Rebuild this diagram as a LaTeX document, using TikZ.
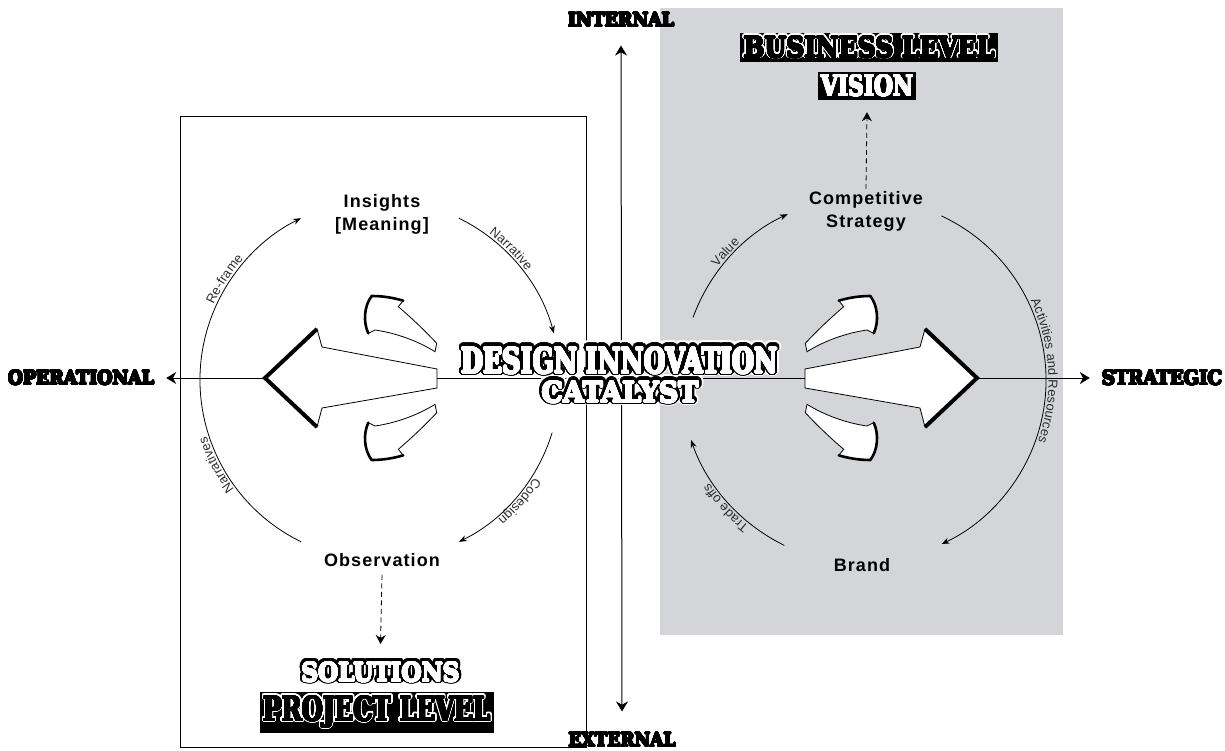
\documentclass[tikz,border=0pt]{standalone}
\usepackage{fontspec}
\usepackage{graphicx}
\usepackage{contour}
\setmainfont{Liberation Sans}
\newfontfamily\dispfont{DejaVu Serif}
\newfontfamily\lblfont[LetterSpace=6]{Liberation Sans}
\usetikzlibrary{arrows.meta,decorations.text}
\definecolor{panel}{RGB}{211,213,216}
\definecolor{arclbl}{RGB}{45,45,45}
\contournumber{32}
\newcommand{\heavytxt}[3]{\resizebox{#1}{#2}{\dispfont\bfseries #3}}
\newcommand{\ctr}[3]{\contourlength{#1}\contour{#2}{#3}}
\newcommand{\arctext}[5]{\path[decorate,decoration={text along path, text align=center, raise=2.5pt, text={|\fontsize{13}{15}\selectfont\color{arclbl}|#5}}] ([shift={(#3:#2)}]#1) arc[start angle=#3, end angle=#4, radius=#2];}
\newcommand{\smallarrowshape}{%
 \draw[blockarrow] (371.7,-296) .. controls (384,-296) and (394,-298) .. (403.3,-300.7) -- (398.3,-306.7) .. controls (414,-320) and (427,-333) .. (436.7,-343.3) -- (435,-351.7) .. controls (418,-341) and (396,-333) .. (375,-330) -- (368.3,-333.3) .. controls (363,-322) and (364,-306) .. cycle;
 \draw[sbarb] (368.3,-333.3) .. controls (363,-322) and (364,-306) .. (371.7,-296) .. controls (384,-296) and (394,-298) .. (403.3,-300.7);
}
\newcommand{\bigarrowshape}{%
 \draw[blockarrow] (265,-378) -- (317,-329) -- (322,-347) -- (437,-369) -- (437,-388) -- (322,-408) -- (317,-427) -- cycle;
 \draw[barb] (317,-329) -- (265,-378) -- (317,-427);
}
\newcommand{\arrowcluster}{%
 \bigarrowshape
 \smallarrowshape
 \begin{scope}[shift={(0,-756)},yscale=-1]\smallarrowshape\end{scope}
}
\tikzset{
 axisline/.style={line width=1pt, {Stealth[length=10pt,width=12pt]}-{Stealth[length=10pt,width=12pt]}},
 cyc/.style={line width=0.8pt, -{Stealth[length=8pt,width=6pt]}},
 dasharrow/.style={line width=0.8pt, dash pattern=on 5pt off 3.5pt, -{Stealth[length=9pt,width=10pt]}},
 heavy/.style={inner sep=0pt, text=black},
 lbl/.style={font=\lblfont\bfseries\fontsize{18}{23}\selectfont, align=center, inner sep=0pt},
 blockarrow/.style={fill=white, draw=black, line width=0.8pt, line join=miter},
 barb/.style={line width=4pt, line join=miter, line cap=butt},
 sbarb/.style={line width=2.6pt, line join=round, line cap=round},
 boxed/.style={fill=black, inner sep=3pt},
}
\begin{document}
\begin{tikzpicture}[x=1pt,y=1pt]
\useasboundingbox (0,0) rectangle (1225,-751);
\fill[white] (0,0) rectangle (1225,-751);
% panels
\fill[panel] (660,-8) rectangle (1063,-635);
\draw[line width=0.8pt, fill=white] (180,-116) rectangle (586,-747);
% axis labels
\node[heavy] (op) at (81,-378) {\ctr{0.7pt}{black}{\heavytxt{146pt}{14pt}{OPERATIONAL}}};
\node[heavy] (st) at (1162,-378) {\ctr{0.7pt}{black}{\heavytxt{120pt}{15pt}{STRATEGIC}}};
\node[heavy] (in) at (621,-20) {\ctr{0.7pt}{black}{\heavytxt{106pt}{14pt}{INTERNAL}}};
\node[heavy] (ex) at (622,-740) {\ctr{0.7pt}{black}{\heavytxt{107pt}{14pt}{EXTERNAL}}};
\draw[axisline] ([xshift=12pt]op.east) -- ([xshift=-12pt]st.west);
\draw[axisline] ([yshift=-18pt]in.south) -- ([yshift=21pt]ex.north);
% cycle nodes
\node[lbl] (ins) at (382,-214) {Insights\\{[}Meaning{]}};
\node[lbl] (obs) at (382,-560) {Observation};
\node[lbl] (cs) at (866,-211) {Competitive\\Strategy};
\node[lbl] (br) at (862,-565) {Brand};
\coordinate (L) at (380,-380);
\coordinate (R) at (865,-380);
% left cycle arcs
\draw[cyc] ([shift={(-116:180)}]L) arc[start angle=-116, end angle=-244, radius=180];
\draw[cyc] ([shift={(64:180)}]L) arc[start angle=64, end angle=15, radius=180];
\draw[cyc] ([shift={(-17:180)}]L) arc[start angle=-17, end angle=-64, radius=180];
\arctext{L}{180}{-190}{-236}{Re-frame}
\arctext{L}{180}{-130}{-175}{Narratives}
\arctext{L}{180}{62}{28}{Narrative}
\arctext{L}{180}{-22}{-60}{Codesign}
% right cycle arcs
\draw[cyc] ([shift={(-200:183)}]R) arc[start angle=-200, end angle=-245, radius=183];
\draw[cyc] ([shift={(-116:184)}]R) arc[start angle=-116, end angle=-161, radius=184];
\draw[cyc] ([shift={(65:181)}]R) arc[start angle=65, end angle=-65, radius=181];
\arctext{R}{183}{-205}{-240}{Value}
\arctext{R}{184}{-118}{-157}{Trade offs}
\arctext{R}{181}{28}{-22}{Activities and Resources}
% block arrows
\arrowcluster
\begin{scope}[shift={(1242,0)},xscale=-1]\arrowcluster\end{scope}
% level titles
\node[boxed] (bl) at (869,-47.5) {\ctr{2.2pt}{white}{\heavytxt{251pt}{21pt}{BUSINESS LEVEL}}};
\node[heavy] (blf) at (bl.center) {\ctr{0.7pt}{black}{\heavytxt{251pt}{21pt}{BUSINESS LEVEL}}};
\node[boxed, inner sep=3pt] (vi) at (867,-86) {\ctr{0.6pt}{white}{\textcolor{white}{\heavytxt{92pt}{21pt}{VISION}}}};
\node[heavy] (so) at (380.5,-672.5) {\ctr{3.2pt}{black}{\heavytxt{158pt}{19pt}{SOLUTIONS}}};
\node[heavy] (sof) at (so.center) {\ctr{0.6pt}{white}{\textcolor{white}{\heavytxt{158pt}{19pt}{SOLUTIONS}}}};
\node[boxed] (pl) at (377,-712.5) {\ctr{2.2pt}{white}{\heavytxt{227pt}{25pt}{PROJECT LEVEL}}};
\node[heavy] (plf) at (pl.center) {\ctr{0.7pt}{black}{\heavytxt{227pt}{25pt}{PROJECT LEVEL}}};
\draw[dasharrow] ([yshift=2pt]cs.north) -- ([yshift=-12pt]vi.south);
\draw[dasharrow] ([yshift=-8pt]obs.south) -- ([yshift=17pt]so.north);
% center title
\node[heavy] (d1h) at (619.5,-361) {\ctr{5pt}{white}{\heavytxt{316pt}{26pt}{DESIGN INNOVATION}}};
\node[heavy] (c1h) at (620,-392.5) {\ctr{5pt}{white}{\heavytxt{157pt}{21pt}{CATALYST}}};
\node[heavy] (d1b) at (619.5,-361) {\ctr{3.3pt}{black}{\heavytxt{316pt}{26pt}{DESIGN INNOVATION}}};
\node[heavy] (c1b) at (620,-392.5) {\ctr{3.3pt}{black}{\heavytxt{157pt}{21pt}{CATALYST}}};
\node[heavy] (d1) at (619.5,-361) {\ctr{0.7pt}{white}{\textcolor{white}{\heavytxt{316pt}{26pt}{DESIGN INNOVATION}}}};
\node[heavy] (c1) at (620,-392.5) {\ctr{0.7pt}{white}{\textcolor{white}{\heavytxt{157pt}{21pt}{CATALYST}}}};
\end{tikzpicture}
\end{document}
